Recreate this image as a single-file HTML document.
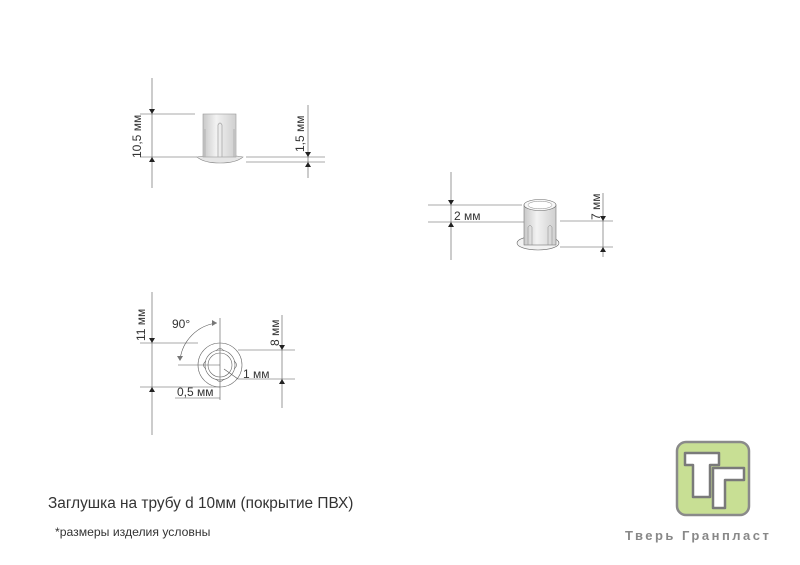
<!DOCTYPE html>
<html><head><meta charset="utf-8"><style>
body{margin:0;background:#fff}
svg{display:block}
text{font-family:"Liberation Sans","DejaVu Sans",sans-serif;fill:#333}
</style></head><body>
<svg width="800" height="565" viewBox="0 0 800 565" xmlns="http://www.w3.org/2000/svg">
<defs>
<linearGradient id="g" x1="0" x2="1"><stop offset="0" stop-color="#c8c8c8"/><stop offset="0.4" stop-color="#f2f2f2"/><stop offset="1" stop-color="#cfcfcf"/></linearGradient>
</defs>
<g stroke="#555" stroke-width="0.6" fill="none">
<line x1="152" y1="78" x2="152" y2="188"/>
<line x1="140" y1="114" x2="195" y2="114"/>
<line x1="140" y1="157" x2="197" y2="157"/>
<line x1="246" y1="157" x2="325" y2="157"/>
<line x1="246" y1="162" x2="325" y2="162"/>
<line x1="308" y1="105" x2="308" y2="178"/>
<line x1="451" y1="172" x2="451" y2="260"/>
<line x1="428" y1="205" x2="522" y2="205"/>
<line x1="428" y1="222" x2="528" y2="222"/>
<line x1="560" y1="221" x2="613" y2="221"/>
<line x1="560" y1="247" x2="613" y2="247"/>
<line x1="603" y1="193" x2="603" y2="257"/>
<line x1="152" y1="292" x2="152" y2="435"/>
<line x1="140" y1="343" x2="198" y2="343"/>
<line x1="140" y1="387" x2="220" y2="387"/>
<line x1="220" y1="318" x2="220" y2="400"/>
<line x1="175" y1="398" x2="220" y2="398"/>
<line x1="178" y1="365" x2="220" y2="365"/>
<line x1="238" y1="350" x2="295" y2="350"/>
<line x1="238" y1="379" x2="295" y2="379"/>
<line x1="282" y1="315" x2="282" y2="408"/>
<path d="M217 323 A42 42 0 0 0 180 360"/>
<line x1="224" y1="369" x2="238" y2="379"/>
</g>
<g fill="#222">
<path d="M152 114 l-3 -5 h6z"/><path d="M152 157 l-3 5 h6z"/>
<path d="M308 157 l-3 -5 h6z"/><path d="M308 162 l-3 5 h6z"/>
<path d="M451 205 l-3 -5 h6z"/><path d="M451 222 l-3 5 h6z"/>
<path d="M603 221 l-3 -5 h6z"/><path d="M603 247 l-3 5 h6z"/>
<path d="M152 343 l-3 -5 h6z"/><path d="M152 387 l-3 5 h6z"/>
<path d="M282 350 l-3 -5 h6z"/><path d="M282 379 l-3 5 h6z"/>
<path d="M217 323 l-5 -3 v6z" fill="#777"/><path d="M180 361 l-3 -5 h6z" fill="#777"/>
</g>
<path d="M197 157 Q220 153 243 157 Q236 163 220 163 Q204 163 197 157z" fill="#e6e6e6" stroke="#888" stroke-width="0.6"/>
<rect x="203" y="114" width="33" height="43" fill="url(#g)" stroke="#999" stroke-width="0.6"/>
<path d="M218 157 v-32 q2-4 4 0 v32 M205 157 v-28 M234 157 v-28" stroke="#aaa" stroke-width="0.8" fill="none"/>
<ellipse cx="538" cy="243" rx="21" ry="7" fill="#f2f2f2" stroke="#666" stroke-width="0.6"/>
<rect x="524" y="205" width="32" height="40" fill="url(#g)" stroke="#777" stroke-width="0.6"/>
<ellipse cx="540" cy="205" rx="16" ry="5.5" fill="#f8f8f8" stroke="#666" stroke-width="0.6"/>
<ellipse cx="540" cy="205" rx="12" ry="3.8" fill="#fff" stroke="#888" stroke-width="0.5"/>
<path d="M528 245 v-18 q2-3 4 0 v18 M548 245 v-18 q2-3 4 0 v18" stroke="#888" stroke-width="0.5" fill="none"/>
<g fill="none" stroke="#666" stroke-width="0.6">
<circle cx="220" cy="365" r="22"/>
<circle cx="220" cy="365" r="15"/>
<circle cx="220" cy="365" r="12"/>
<path d="M216 351 q4 -5 8 0 M216 379 q4 5 8 0 M206 361 q-5 4 0 8 M234 361 q5 4 0 8"/>
</g>
<g font-size="12">
<text transform="translate(141,158) rotate(-90)">10,5 мм</text>
<text transform="translate(304,152) rotate(-90)">1,5 мм</text>
<text x="454" y="220">2 мм</text>
<text transform="translate(600,220) rotate(-90)">7 мм</text>
<text transform="translate(145,341) rotate(-90)">11 мм</text>
<text transform="translate(279,346) rotate(-90)">8 мм</text>
<text x="172" y="328">90°</text>
<text x="243" y="378">1 мм</text>
<text x="177" y="396">0,5 мм</text>
</g>
<text x="48" y="508" font-size="15.4">Заглушка на трубу d 10мм (покрытие ПВХ)</text>
<text x="55" y="536" font-size="12.2">*размеры изделия условны</text>
<rect x="677" y="442" width="72" height="73" rx="9" fill="#c8df94" stroke="#8a8a8a" stroke-width="2.5"/>
<path d="M685 453 h34 v12 h-9 v32 h-17 v-32 h-8z" fill="#fff" stroke="#7a7a7a" stroke-width="2.5" stroke-linejoin="round"/>
<path d="M713 468 h31 v12 h-19 v28 h-12z" fill="#fff" stroke="#7a7a7a" stroke-width="2.5" stroke-linejoin="round"/>
<text x="625" y="540" font-size="13" font-weight="bold" style="fill:#888;letter-spacing:2.5px">Тверь Гранпласт</text>
</svg>
</body></html>
